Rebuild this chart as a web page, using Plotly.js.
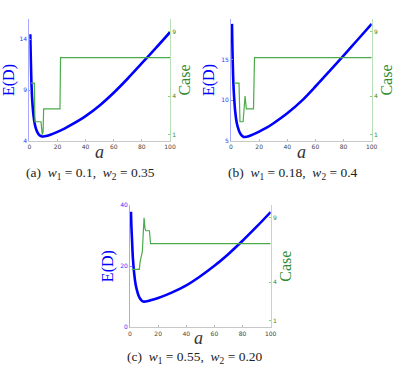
<!DOCTYPE html>
<html>
<head>
<meta charset="utf-8">
<script src="https://cdn.plot.ly/plotly-3.0.1.min.js"></script>
<style>html,body{margin:0;padding:0;background:#fff;}#chart{width:396px;height:371px;}</style>
</head>
<body>
<div id="chart"></div>
<script>
// ---- data ----
var aGrid = [0.7, 1, 1.5, 2, 3, 4, 5, 6, 7, 8, 9, 10, 12, 15, 20, 25, 30, 40, 50, 60, 70, 80, 90, 100];
var energyA = [14.5, 12.5, 9.8, 8.2, 6.5, 5.6, 5.1, 4.8, 4.6, 4.5, 4.45, 4.45, 4.5, 4.62, 4.9, 5.22, 5.6, 6.45, 7.5, 8.75, 10.15, 11.65, 13.15, 14.7];
var energyB = [19.4, 16.5, 13.0, 11.0, 8.6, 7.3, 6.6, 6.1, 5.8, 5.6, 5.5, 5.5, 5.55, 5.75, 6.15, 6.6, 7.15, 8.4, 9.9, 11.7, 13.6, 15.5, 17.45, 19.4];
var energyC = [37.8, 33.0, 28.0, 23.0, 17.5, 14.0, 12.0, 10.5, 9.5, 8.9, 8.5, 8.4, 8.5, 8.9, 9.6, 10.45, 11.4, 13.7, 16.7, 20.1, 24.0, 28.3, 32.9, 37.7];

var caseAx = [1.2, 3.6, 4.0, 8.3, 9.2, 9.8, 10.2, 21.8, 22.2, 100];
var caseAy = [5, 5, 2, 2, 1, 1.2, 3, 3, 7, 7];
var caseBx = [2.2, 5.7, 6.4, 8.6, 10.0, 10.9, 16.0, 16.7, 100];
var caseBy = [5, 5, 2, 2, 4, 3, 3, 7, 7];
var caseCx = [1.2, 6.6, 7.2, 8.2, 8.8, 9.5, 10.0, 10.6, 11.2, 13.8, 14.6, 100];
var caseCy = [5, 5, 5.6, 6.1, 6.4, 8, 9, 8.2, 8, 8, 7, 7];

var xTicks = [0, 20, 40, 60, 80, 100];
var caseTicks = [1, 4, 9];
var leftTicksA = [4, 9, 14];
var leftTicksB = [5, 10, 15];
var leftTicksC = [0, 20, 40];
var captions = [
  "(a)  <i>w</i><sub>1</sub> = 0.1,  <i>w</i><sub>2</sub> = 0.35",
  "(b)  <i>w</i><sub>1</sub> = 0.18,  <i>w</i><sub>2</sub> = 0.4",
  "(c)  <i>w</i><sub>1</sub> = 0.55,  <i>w</i><sub>2</sub> = 0.20"
];

// ---- styling ----
var BLUE = '#0000ff', GREEN = '#4aab4a', GREEN_TXT = '#2e8b2e';
var serif = '"Liberation Serif", "DejaVu Serif", serif';
var sans = '"DejaVu Sans", sans-serif';
var W = 396, H = 371;
function xd(l, r){ return [l / W, r / W]; }
function yd(t, b){ return [1 - b / H, 1 - t / H]; }

var panels = [
  {x: xd(29.3, 170), y: yd(19, 141), E: energyA, cx: caseAx, cy: caseAy, lr: [4, 16], lt: leftTicksA, cap: [90.6, 173], at: [99, 152]},
  {x: xd(231, 371.7), y: yd(19, 141), E: energyB, cx: caseBx, cy: caseBy, lr: [5, 20], lt: leftTicksB, cap: [293, 173], at: [301.7, 152]},
  {x: xd(130, 270.7), y: yd(205, 327.3), E: energyC, cx: caseCx, cy: caseCy, lr: [0, 40], lt: leftTicksC, cap: [195, 357], at: [199, 338]}
];

var data = [];
var layout = {
  width: W, height: H, margin: {l: 0, r: 0, t: 0, b: 0},
  paper_bgcolor: '#fff', plot_bgcolor: 'rgba(0,0,0,0)',
  showlegend: false, annotations: []
};

panels.forEach(function(p, i){
  var xn = i + 1, yl = 2 * i + 1, yr = 2 * i + 2;
  var xk = 'xaxis' + (xn === 1 ? '' : xn);
  var ylk = 'yaxis' + (yl === 1 ? '' : yl);
  var yrk = 'yaxis' + yr;
  var xref = 'x' + (xn === 1 ? '' : xn);
  var ylref = 'y' + (yl === 1 ? '' : yl);
  var yrref = 'y' + yr;

  data.push({x: p.cx, y: p.cy, xaxis: xref, yaxis: yrref, mode: 'lines', type: 'scatter',
    line: {color: GREEN, width: 1.2}, name: 'Case'});
  data.push({x: aGrid, y: p.E, xaxis: xref, yaxis: ylref, mode: 'lines', type: 'scatter',
    line: {color: BLUE, width: 2.6, shape: 'spline', smoothing: 0.8}, name: 'E(D)'});

  layout[xk] = {domain: p.x, anchor: ylref, range: [0, 100], tickvals: xTicks, ticktext: xTicks.map(String),
    showgrid: false, zeroline: false, showline: true, linecolor: '#c8c8c8', linewidth: 1,
    ticks: 'inside', ticklen: 2, tickcolor: '#bbb', tickfont: {family: sans, size: 6, color: '#444'}};
  layout[ylk] = {domain: p.y, anchor: xref, range: p.lr, tickvals: p.lt, ticktext: p.lt.map(String),
    showgrid: false, zeroline: false, showline: true, linecolor: '#a8a8ff', linewidth: 1,
    ticks: 'inside', ticklen: 2, tickcolor: '#8888ff', tickfont: {family: sans, size: 6, color: '#3333ff'},
    title: {text: 'E(D)', font: {family: serif, size: 16, color: BLUE}, standoff: 2}};
  layout[yrk] = {overlaying: ylref, side: 'right', anchor: xref, range: [0.5, 10], tickvals: caseTicks, ticktext: caseTicks.map(String),
    showgrid: false, zeroline: false, showline: true, linecolor: '#b8e0b8', linewidth: 1,
    ticks: 'inside', ticklen: 2, tickcolor: '#8c8', tickfont: {family: sans, size: 6, color: GREEN_TXT},
    title: {text: 'Case', font: {family: serif, size: 16, color: GREEN_TXT}, standoff: 2}};

  layout.annotations.push({text: '<i>a</i>', xref: 'paper', yref: 'paper',
    x: p.at[0] / W, y: 1 - p.at[1] / H, xanchor: 'center', yanchor: 'middle',
    showarrow: false, font: {family: serif, size: 18, color: '#333'}});
  layout.annotations.push({text: captions[i], xref: 'paper', yref: 'paper',
    x: p.cap[0] / W, y: 1 - p.cap[1] / H, xanchor: 'center', yanchor: 'middle',
    showarrow: false, font: {family: serif, size: 13.5, color: '#222'}});
});

Plotly.newPlot('chart', data, layout, {displayModeBar: false, staticPlot: true});
</script>
</body>
</html>
